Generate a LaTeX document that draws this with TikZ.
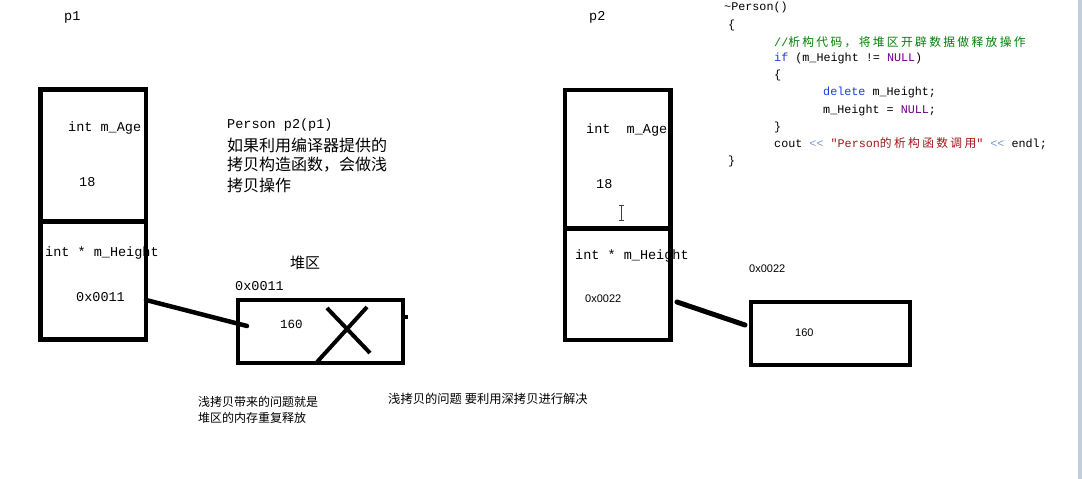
\documentclass[tikz,border=0pt]{standalone}
\usepackage{fontspec}
\setmainfont{Liberation Serif}
\setmonofont{Liberation Mono}
\newfontfamily\cjk{Noto Sans CJK SC}
\newfontfamily\cjksp[LetterSpace=20]{Noto Sans CJK SC}
\newfontfamily\arial{Liberation Sans}
\definecolor{kwblue}{RGB}{30,60,215}
\definecolor{nullpurple}{RGB}{111,0,138}
\definecolor{cmtgreen}{RGB}{0,128,0}
\definecolor{strred}{RGB}{163,21,21}
\definecolor{opblue}{RGB}{120,155,205}
\definecolor{edgebar}{RGB}{195,206,220}
\begin{document}
\begin{tikzpicture}[x=1pt,y=-1pt,
  box/.style={draw=black, line width=4.5pt, inner sep=0pt, outer sep=0pt},
  heapbox/.style={draw=black, line width=4pt, inner sep=0pt, outer sep=0pt},
  lbl/.style={anchor=west, inner sep=0pt, font=\ttfamily\fontsize{13.5}{16}\selectfont},
  small/.style={anchor=west, inner sep=0pt, font=\arial\fontsize{11}{13}\selectfont},
  cn/.style={anchor=west, inner sep=0pt, font=\cjk\fontsize{16}{20}\selectfont},
  cnsmall/.style={anchor=west, inner sep=0pt, font=\cjk\fontsize{12}{16}\selectfont},
  code/.style={anchor=west, inner sep=0pt, font=\ttfamily\fontsize{11.75}{17}\selectfont},
  conn/.style={line width=4.5pt, line cap=round}]
\useasboundingbox (0,0) rectangle (1082,479);
\fill[white] (0,0) rectangle (1082,479);
\fill[edgebar] (1078,0) rectangle (1082,479);

% ---------- p1 ----------
\node[lbl] (p1lbl) at (64,17) {p1};
\node[box, minimum width=105.5pt, minimum height=132pt] (p1a) at (93.25,155.5) {};
\node[box, minimum width=105.5pt, minimum height=118pt] (p1b) at (93.25,280.5) {};
\node[lbl] (p1age) at (68,128) {int m\_Age};
\node[lbl] (p1agev) at (79,182) {18};
\node[lbl] (p1h) at (45,253) {int * m\_Height};
\node[lbl] (p1hv) at (76,297) {0x0011};

% ---------- middle text ----------
\node[lbl] (copytxt) at (227,125) {Person p2(p1)};
\node[cn] (cn1) at (227,145) {如果利用编译器提供的};
\node[cn] (cn2) at (227,165) {拷贝构造函数，会做浅};
\node[cn] (cn3) at (227,185) {拷贝操作};

% ---------- heap 1 ----------
\node[cn, font=\cjk\fontsize{15}{18}\selectfont] (heaplbl) at (290,263) {堆区};
\node[lbl] (h1addr) at (235,286) {0x0011};
\node[heapbox, minimum width=165.5pt, minimum height=63.5pt] (heap1) at (320.25,331.25) {};
\node[lbl, font=\ttfamily\fontsize{12.5}{15}\selectfont] (h1val) at (280,324) {160};
\draw[line width=4pt] ([yshift=14.75pt]heap1.east) -- ++(5,0);
\draw[line width=4pt] (327,308) -- (370,353);
\draw[line width=4pt] (367,307) -- (317,362);
\coordinate (h1in) at (247,326);
\draw[conn] ([yshift=-19.5pt]p1b.east) -- (h1in);

% ---------- bottom notes ----------
\node[cnsmall] (note1a) at (198,402) {浅拷贝带来的问题就是};
\node[cnsmall] (note1b) at (198,418) {堆区的内存重复释放};
\node[cnsmall, font=\cjk\fontsize{12.3}{14}\selectfont] (note2) at (388,399) {浅拷贝的问题 要利用深拷贝进行解决};

% ---------- p2 ----------
\node[lbl] (p2lbl) at (589,17) {p2};
\node[box, minimum width=105.5pt, minimum height=138.5pt] (p2a) at (617.75,159.25) {};
\node[box, minimum width=105.5pt, minimum height=111.5pt] (p2b) at (617.75,284.25) {};
\node[lbl] (p2age) at (586,130) {int\ \ m\_Age};
\node[lbl] (p2agev) at (596,184) {18};
\node[lbl] (p2h) at (575,256) {int * m\_Height};
\node[small] (p2hv) at (585,299) {0x0022};
\draw[black!75, line width=0.9pt] (621,206) -- (621,220)
  (618.5,205.5) -- (623.5,205.5) (618.5,220.5) -- (623.5,220.5);

% ---------- heap 2 ----------
\node[small] (h2addr) at (749,269) {0x0022};
\node[heapbox, minimum width=159pt, minimum height=63pt] (heap2) at (830.5,333.5) {};
\node[small] (h2val) at (795,333) {160};
\coordinate (c2s) at (677,302);
\coordinate (c2e) at (745,325);
\draw[conn, line width=5pt] (c2s) -- (c2e);

% ---------- code ----------
\node[code] (cl1) at (724,7) {\textasciitilde Person()};
\node[code] (cl2) at (728,25) {\{};
\node[code] (cl3) at (774,42) {\textcolor{cmtgreen}{//{\cjksp 析构代码，将堆区开辟数据做释放操作}}};
\node[code] (cl4) at (774,58) {\textcolor{kwblue}{if} (m\_Height != \textcolor{nullpurple}{NULL})};
\node[code] (cl5) at (774,75) {\{};
\node[code] (cl6) at (823,92) {\textcolor{kwblue}{delete} m\_Height;};
\node[code] (cl7) at (823,110) {m\_Height = \textcolor{nullpurple}{NULL};};
\node[code] (cl8) at (774,127) {\}};
\node[code] (cl9) at (774,144) {cout \textcolor{opblue}{<\kern0pt<} \textcolor{strred}{"Person{\cjksp 的析构函数调用}"} \textcolor{opblue}{<\kern0pt<} endl;};
\node[code] (cl10) at (728,161) {\}};
\end{tikzpicture}
\end{document}
